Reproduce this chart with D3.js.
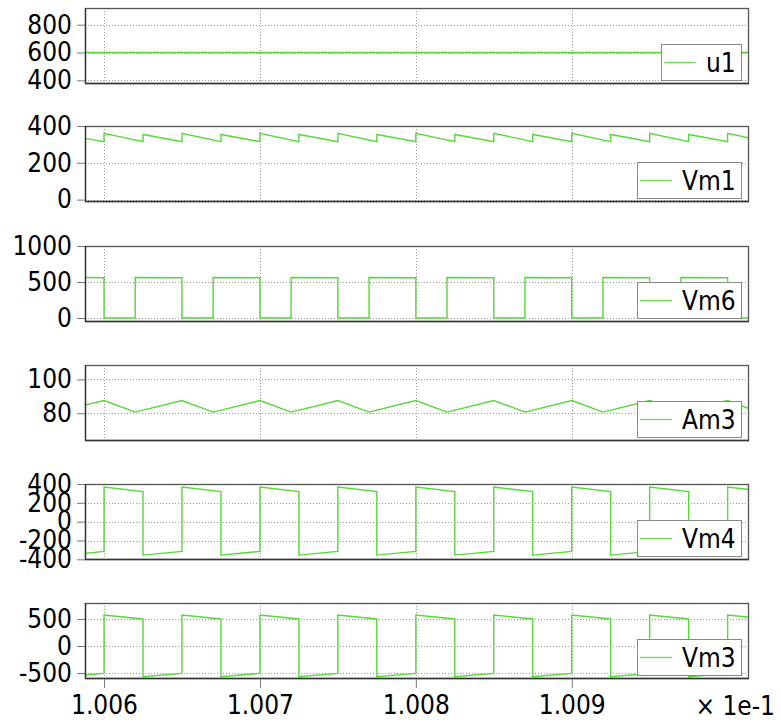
<!DOCTYPE html>
<html>
<head>
<meta charset="utf-8">
<script src="https://cdn.jsdelivr.net/npm/d3@7/dist/d3.min.js"></script>
<style>
body { margin: 0; background: #fff; }
text { font-family: "DejaVu Sans Condensed", "DejaVu Sans", sans-serif; font-stretch: condensed; fill: #000; }
</style>
</head>
<body>
<div id="chart"></div>
<script>
// time in seconds, axis shows t*10 with a "x 1e-1" note
var tStart = 0.1005878, tEnd = 0.1010137;

var tU1 = [tStart, tEnd];
var u1  = [600, 600];

var tSaw = [tStart,
  0.1006, 0.1006, 0.100625, 0.100625, 0.10065, 0.10065, 0.100675, 0.100675,
  0.1007, 0.1007, 0.100725, 0.100725, 0.10075, 0.10075, 0.100775, 0.100775,
  0.1008, 0.1008, 0.100825, 0.100825, 0.10085, 0.10085, 0.100875, 0.100875,
  0.1009, 0.1009, 0.100925, 0.100925, 0.10095, 0.10095, 0.100975, 0.100975,
  0.101, 0.101, tEnd];

var vm1 = [333,
  315, 360, 315, 354, 315, 360, 315, 354,
  315, 360, 315, 354, 315, 360, 315, 354,
  315, 360, 315, 354, 315, 360, 315, 354,
  315, 360, 315, 354, 315, 360, 315, 354,
  315, 360, 335];

var vm4 = [-337,
  -316, 368, 319, -355, -316, 368, 319, -355,
  -316, 368, 319, -355, -316, 368, 319, -355,
  -316, 368, 319, -355, -316, 368, 319, -355,
  -316, 368, 319, -355, -316, 368, 319, -355,
  -316, 368, 341];

var vm3 = [-537,
  -507, 574, 500, -568, -507, 574, 500, -568,
  -507, 574, 500, -568, -507, 574, 500, -568,
  -507, 574, 500, -568, -507, 574, 500, -568,
  -507, 574, 500, -568, -507, 574, 500, -568,
  -507, 574, 533];

var tPwm = [tStart,
  0.1006, 0.1006, 0.10062, 0.10062, 0.10065, 0.10065, 0.10067, 0.10067,
  0.1007, 0.1007, 0.10072, 0.10072, 0.10075, 0.10075, 0.10077, 0.10077,
  0.1008, 0.1008, 0.10082, 0.10082, 0.10085, 0.10085, 0.10087, 0.10087,
  0.1009, 0.1009, 0.10092, 0.10092, 0.10095, 0.10095, 0.10097, 0.10097,
  0.101, 0.101, tEnd];

var vm6 = [562,
  560, 0, 0, 562, 560, 0, 0, 562,
  560, 0, 0, 562, 560, 0, 0, 562,
  560, 0, 0, 562, 560, 0, 0, 562,
  560, 0, 0, 562, 560, 0, 0, 562,
  560, 0, 0];

var tAm3 = [tStart,
  0.1006, 0.10062, 0.10065, 0.10067, 0.1007, 0.10072, 0.10075, 0.10077,
  0.1008, 0.10082, 0.10085, 0.10087, 0.1009, 0.10092, 0.10095, 0.10097,
  0.101, tEnd];

var am3 = [84.8,
  87.5, 80.7, 87.5, 80.7, 87.5, 80.7, 87.5, 80.7,
  87.5, 80.7, 87.5, 80.7, 87.5, 80.7, 87.5, 80.7,
  87.5, 82.8];

var xTicks = [0.1006, 0.1007, 0.1008, 0.1009];

var panels = [
  {name: "u1",  t: tU1,  v: u1,  domain: [374, 920],   ticks: [400, 600, 800]},
  {name: "Vm1", t: tSaw, v: vm1, domain: [-13, 400],   ticks: [0, 200, 400]},
  {name: "Vm6", t: tPwm, v: vm6, domain: [-55, 1000],  ticks: [0, 500, 1000]},
  {name: "Am3", t: tAm3, v: am3, domain: [63.6, 108.5], ticks: [80, 100]},
  {name: "Vm4", t: tSaw, v: vm4, domain: [-407, 400],  ticks: [-400, -200, 0, 200, 400]},
  {name: "Vm3", t: tSaw, v: vm3, domain: [-611, 796],  ticks: [-500, 0, 500]}
];

var width = 781, height = 722,
    left = 85, right = 749,
    tops = [8, 126, 246, 365, 484, 603],
    ph = 76;

var lineColor = "#55d838", fontSize = 26;

var svg = d3.select("#chart").append("svg")
    .attr("width", width)
    .attr("height", height);

var x = d3.scaleLinear().domain([tStart, tEnd]).range([left, right]);

panels.forEach(function(p, i) {
  var top = tops[i], bottom = top + ph;
  var y = d3.scaleLinear().domain(p.domain).range([bottom, top]);
  var g = svg.append("g");

  g.append("clipPath").attr("id", "clip" + i)
    .append("rect").attr("x", left).attr("y", top).attr("width", right - left).attr("height", ph);

  // grid
  g.selectAll(".gy").data(p.ticks).enter().append("line")
    .attr("x1", left).attr("x2", right)
    .attr("y1", function(d) { return Math.round(y(d)) + 0.5; })
    .attr("y2", function(d) { return Math.round(y(d)) + 0.5; })
    .attr("stroke", "#999").attr("stroke-dasharray", "1,2");
  g.selectAll(".gx").data(xTicks).enter().append("line")
    .attr("y1", top).attr("y2", bottom)
    .attr("x1", function(d) { return Math.round(x(d)) + 0.5; })
    .attr("x2", function(d) { return Math.round(x(d)) + 0.5; })
    .attr("stroke", "#999").attr("stroke-dasharray", "1,2");

  // y axis (plain hyphen minus like the original)
  var ay = g.append("g")
    .attr("transform", "translate(" + left + ",0)")
    .call(d3.axisLeft(y).tickValues(p.ticks).tickSize(8).tickPadding(5)
      .tickFormat(function(d) { return String(d); }));
  ay.select(".domain").remove();
  ay.selectAll(".tick line").attr("stroke", "#777");
  ay.selectAll("text").style("font-size", fontSize + "px").attr("fill", "#000");

  // data
  var pts = p.t.map(function(t, k) { return [t, p.v[k]]; });
  g.append("path")
    .datum(pts)
    .attr("clip-path", "url(#clip" + i + ")")
    .attr("fill", "none")
    .attr("stroke", lineColor)
    .attr("stroke-width", 1.4)
    .attr("d", d3.line().x(function(d) { return x(d[0]); }).y(function(d) { return y(d[1]); }));

  // frame
  g.append("rect")
    .attr("x", left + 0.5).attr("y", top + 0.5)
    .attr("width", right - left - 1).attr("height", ph - 1)
    .attr("fill", "none").attr("stroke", "#555").attr("stroke-width", 1.3);
  g.append("path")
    .attr("d", "M" + (left + 0.5) + "," + top + "V" + (bottom - 0.5) + "H" + right)
    .attr("fill", "none").attr("stroke", "#333").attr("stroke-width", 1.3);

  // legend
  var lg = g.append("g");
  var txt = lg.append("text")
    .attr("dy", "0.35em")
    .style("font-size", fontSize + "px")
    .text(p.name);
  var tw = txt.node().getComputedTextLength();
  var bw = Math.round(tw + 50), bh = 36,
      bx = right - 8 - bw, by = bottom - 4 - bh;
  lg.insert("rect", "text")
    .attr("x", bx + 0.5).attr("y", by + 0.5).attr("width", bw).attr("height", bh)
    .attr("fill", "#fff").attr("stroke", "#888");
  lg.insert("line", "text")
    .attr("x1", bx + 3).attr("x2", bx + 35)
    .attr("y1", by + Math.round(bh / 2) + 0.5).attr("y2", by + Math.round(bh / 2) + 0.5)
    .attr("stroke", "#6fdd55").attr("stroke-width", 1.3);
  txt.attr("x", bx + 45).attr("y", by + bh / 2 + 1);

  // x axis on last panel
  if (i === panels.length - 1) {
    var ax = g.append("g")
      .attr("transform", "translate(0," + bottom + ")")
      .call(d3.axisBottom(x).tickValues(xTicks).tickSize(9).tickPadding(8)
        .tickFormat(function(d) { return d3.format(".3f")(d * 10); }));
    ax.select(".domain").remove();
    ax.selectAll(".tick line").attr("stroke", "#777");
    ax.selectAll("text").style("font-size", fontSize + "px").attr("fill", "#000");
    g.append("text")
      .attr("x", 775).attr("y", bottom + 36)
      .attr("text-anchor", "end")
      .style("font-size", fontSize + "px")
      .text("\u00d7 1e-1");
  }
});
</script>
</body>
</html>
